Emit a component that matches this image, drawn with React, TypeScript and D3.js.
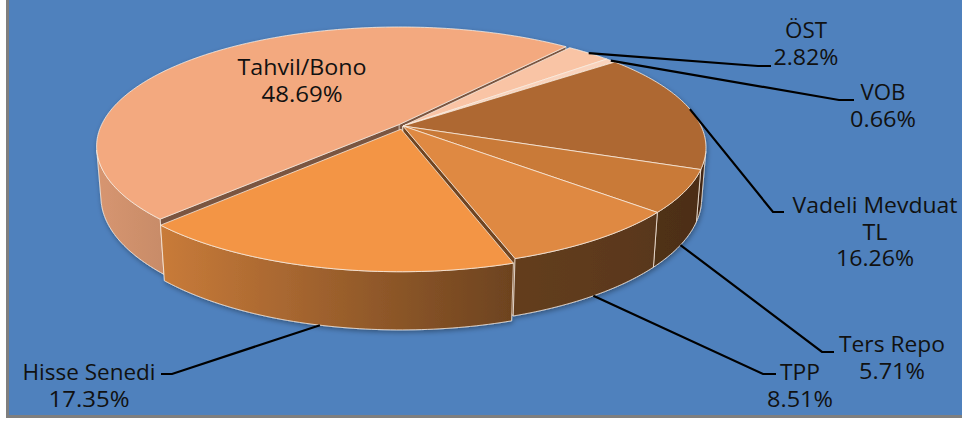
import React from 'react';
import * as d3 from 'd3';

// ---------- data ----------
const CATEGORIES = ["Tahvil/Bono", "ÖST", "VOB", "Vadeli Mevduat TL", "Ters Repo", "TPP", "Hisse Senedi"];
const VALUES = [48.69, 2.82, 0.66, 16.26, 5.71, 8.51, 17.35];
const LABEL_LINES = [["Tahvil/Bono"], ["ÖST"], ["VOB"], ["Vadeli Mevduat", "TL"], ["Ters Repo"], ["TPP"], ["Hisse Senedi"]];

// ---------- style / layout ----------
const COLORS = ["#F3A97F", "#F9C4A5", "#FAD3BC", "#AE6730", "#C97A38", "#DF8943", "#F39545"];
const EXPLODE = [0.018, 0, 0, 0, 0, 0, 0.028];
const LABEL_LAYOUT = [
  { cx: 302, y: 75, lead: null, widths: [129, 81] },
  { cx: 806, y: 38, lead: [[758, 66], [771, 66]], widths: [42, 65] },
  { cx: 883, y: 100, lead: [[839, 100], [854, 100]], widths: [45, 66] },
  { cx: 875, y: 213, lead: [[773, 212], [784, 212]], widths: [165, 25, 78] },
  { cx: 892, y: 352, lead: [[822, 352], [834, 352]], widths: [106, 66] },
  { cx: 800, y: 380, lead: [[763, 374], [776, 374]], widths: [40, 66] },
  { cx: 89, y: 380, lead: [[172, 374], [161, 374]], widths: [133, 81] },
];

const W = 962, HGT = 421;
const CX = 403, CY = 126, F = 1526, DIST = 5.121;
const SA = 0.388, CA = Math.sqrt(1 - SA * SA);
const THICK = 0.183;
const START = -135.7 * Math.PI / 180;
const LINE_H = 26.5;

function P(X: number, Y: number, Z: number): [number, number] {
  const yc = Y * SA + Z * CA;
  const zc = DIST + Y * CA - Z * SA;
  return [CX + F * X / zc, CY - F * yc / zc];
}

function rim(a0: number, a1: number, Z: number, dx: number, dy: number): [number, number][] {
  const n = Math.max(2, Math.ceil(Math.abs(a1 - a0) / (Math.PI / 180)));
  const pts: [number, number][] = [];
  for (let i = 0; i <= n; i++) {
    const a = a0 + (a1 - a0) * i / n;
    pts.push(P(dx + Math.sin(a), dy + Math.cos(a), Z));
  }
  return pts;
}

function shade(c: string, f: number) {
  const r = d3.rgb(c);
  return d3.rgb(r.r * f, r.g * f, r.b * f).formatHex();
}

const line = d3.line();
const closed = (pts: [number, number][]) => line(pts) + 'Z';

export default function App() {
  const pie = d3.pie<number>().sort(null).value(d => d)
    .startAngle(START).endAngle(START + 2 * Math.PI);
  const arcs = pie(VALUES);

  const vis = Math.acos(-1 / (DIST * CA));
  const visRanges = [-1, 0, 1].map(k => [vis + 2 * Math.PI * k, 2 * Math.PI - vis + 2 * Math.PI * k]);

  const radial: { d: string; fill: string; depth: number }[] = [];
  const walls: { d: string; i: number }[] = [];
  const tops: { d: string; fill: string }[] = [];

  arcs.forEach((a, i) => {
    const mid = (a.startAngle + a.endAngle) / 2;
    const dx = EXPLODE[i] * Math.sin(mid), dy = EXPLODE[i] * Math.cos(mid);
    [[a.startAngle, -1], [a.endAngle, 1]].forEach(([b, sgn]) => {
      const ny = sgn > 0 ? -Math.sin(b) : Math.sin(b);
      if (ny < 0) {
        const pts = [P(dx, dy, 0), P(dx + Math.sin(b), dy + Math.cos(b), 0),
          P(dx + Math.sin(b), dy + Math.cos(b), -THICK), P(dx, dy, -THICK)];
        radial.push({ d: closed(pts), fill: shade(COLORS[i], 0.5), depth: Math.cos(b) });
      }
    });
    visRanges.forEach(([v0, v1]) => {
      const s = Math.max(a.startAngle, v0), e = Math.min(a.endAngle, v1);
      if (e > s) {
        const pts = [...rim(s, e, 0, dx, dy), ...rim(e, s, -THICK, dx, dy)];
        walls.push({ d: closed(pts), i });
      }
    });
    tops.push({ d: closed([P(dx, dy, 0), ...rim(a.startAngle, a.endAngle, 0, dx, dy)]), fill: COLORS[i] });
  });
  radial.sort((p, q) => q.depth - p.depth);

  const stops = [[0, 0.88], [0.11, 0.82], [0.68, 0.45], [1, 0.38]];
  const edge = "rgba(250,238,226,0.85)";

  const labels = arcs.map((a, i) => {
    const mid = (a.startAngle + a.endAngle) / 2;
    const dx = EXPLODE[i] * Math.sin(mid), dy = EXPLODE[i] * Math.cos(mid);
    const lay = LABEL_LAYOUT[i];
    const lines = [...LABEL_LINES[i], d3.format(".2f")(VALUES[i]) + "%"];
    let leader: string | null = null;
    if (lay.lead) {
      const wallVisible = Math.cos(mid) < -1 / (DIST * CA);
      const start = P(dx + Math.sin(mid), dy + Math.cos(mid), wallVisible ? -THICK : 0);
      leader = line([start, ...(lay.lead as [number, number][])]);
    }
    return { lay, lines, leader, key: CATEGORIES[i] };
  });

  return (
    <svg width={W} height={HGT} style={{ position: 'absolute', left: 0, top: 0 }}
      fontFamily="'Open Sans', 'Noto Sans', sans-serif">
      <defs>
        {COLORS.map((c, i) => (
          <linearGradient key={i} id={`wall${i}`} gradientUnits="userSpaceOnUse" x1={100} x2={706} y1={0} y2={0}>
            {stops.map(([o, f], k) => <stop key={k} offset={o} stopColor={shade(c, f)} />)}
          </linearGradient>
        ))}
        <filter id="shadow" x="-10%" y="-10%" width="120%" height="130%">
          <feDropShadow dx={1} dy={2} stdDeviation={2.5} floodColor="#000" floodOpacity={0.35} />
        </filter>
      </defs>
      <rect x={0} y={0} width={W} height={HGT} fill="#fff" />
      <rect x={6} y={0} width={W - 6} height={418} fill="#7F7F7F" />
      <rect x={9} y={0} width={W - 9} height={415} fill="#4F81BD" />
      <g filter="url(#shadow)">
        {radial.map((r, k) => <path key={`r${k}`} d={r.d} fill={r.fill} stroke={edge} strokeWidth={0.6} />)}
        {walls.map((w, k) => <path key={`w${k}`} d={w.d} fill={`url(#wall${w.i})`} stroke={edge} strokeWidth={0.9} />)}
        {tops.map((t, k) => <path key={`t${k}`} d={t.d} fill={t.fill} stroke={edge} strokeWidth={0.9} />)}
      </g>
      {labels.map(l => (
        <g key={l.key}>
          {l.leader && <path d={l.leader} fill="none" stroke="#000" strokeWidth={2.2} />}
          {l.lines.map((t, k) => (
            <text key={k} x={l.lay.cx} y={l.lay.y + k * LINE_H} textAnchor="middle" fontSize={21}
              fill="#111" textLength={l.lay.widths[k]} lengthAdjust="spacingAndGlyphs">{t}</text>
          ))}
        </g>
      ))}
    </svg>
  );
}
